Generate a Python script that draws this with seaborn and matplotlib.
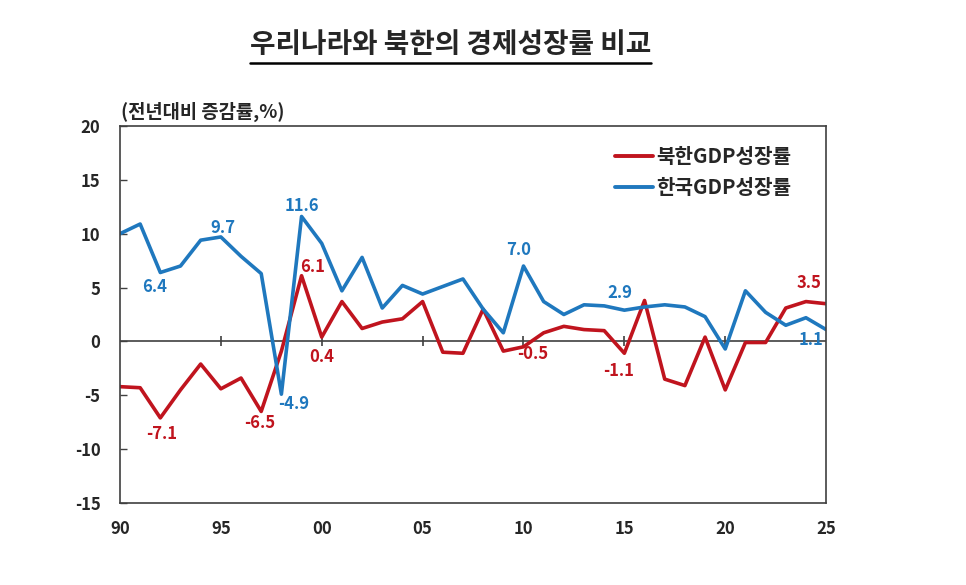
import numpy as np
import pandas as pd
import seaborn as sns
import matplotlib.pyplot as plt
from matplotlib.lines import Line2D

years = list(range(1990, 2026))
nk_growth = [-4.2, -4.3, -7.1, -4.5, -2.1, -4.4, -3.4, -6.5, -0.9, 6.1,
             0.4, 3.7, 1.2, 1.8, 2.1, 3.7, -1.0, -1.1, 3.0, -0.9,
             -0.5, 0.8, 1.4, 1.1, 1.0, -1.1, 3.8, -3.5, -4.1, 0.4,
             -4.5, -0.1, -0.1, 3.1, 3.7, 3.5]
sk_growth = [10.0, 10.9, 6.4, 7.0, 9.4, 9.7, 7.9, 6.3, -4.9, 11.6,
             9.1, 4.7, 7.8, 3.1, 5.2, 4.4, 5.1, 5.8, 3.0, 0.8,
             7.0, 3.7, 2.5, 3.4, 3.3, 2.9, 3.2, 3.4, 3.2, 2.3,
             -0.7, 4.7, 2.7, 1.5, 2.2, 1.1]
series_names = ["북한GDP성장률", "한국GDP성장률"]
tick_years = [1990, 1995, 2000, 2005, 2010, 2015, 2020, 2025]
tick_labels = ["90", "95", "00", "05", "10", "15", "20", "25"]

# (series, year, label, dx px, dy px)
annotations = [
    ("sk", 1992, "6.4", -6, -15), ("sk", 1995, "9.7", 2, 9), ("sk", 1999, "11.6", 0, 10),
    ("sk", 1998, "-4.9", 12, -10), ("sk", 2010, "7.0", -5, 16), ("sk", 2015, "2.9", -4, 17),
    ("sk", 2025, "1.1", -15, -10),
    ("nk", 1999, "6.1", 11, 9), ("nk", 2000, "0.4", 0, -20), ("nk", 1992, "-7.1", 1, -16),
    ("nk", 1997, "-6.5", -2, -12), ("nk", 2010, "-0.5", 9, -7), ("nk", 2015, "-1.1", -6, -18),
    ("nk", 2025, "3.5", -17, 21),
]

red = "#C0141E"
blue = "#1F78BE"

df = pd.DataFrame({
    "year": years * 2,
    "growth": nk_growth + sk_growth,
    "series": [series_names[0]] * len(years) + [series_names[1]] * len(years),
})

sns.set_style("white")
plt.rcParams["font.family"] = ["Noto Sans CJK KR", "DejaVu Sans"]
plt.rcParams["axes.unicode_minus"] = False

fig = plt.figure(figsize=(9.66, 5.85), dpi=100)
ax = fig.add_axes([0.1242, 0.1402, 0.731, 0.6444])

sns.lineplot(data=df, x="year", y="growth", hue="series",
             palette={series_names[0]: red, series_names[1]: blue},
             linewidth=2.6, ax=ax)

ax.axhline(0, color="#404040", linewidth=1.2, zorder=1)
ax.scatter(tick_years[1:-1], [0] * (len(tick_years) - 2), marker="|", s=60,
           color="#404040", linewidths=1.2, zorder=1)

ax.set_xlim(1990, 2025)
ax.set_ylim(-15, 20)
ax.set_xticks(tick_years)
ax.set_xticklabels(tick_labels)
ax.set_yticks(range(-15, 21, 5))
ax.tick_params(axis="x", length=0, pad=12, labelsize=12)
ax.tick_params(axis="y", direction="in", length=5, width=1, color="#404040",
               pad=14, labelsize=12, left=True)
for lab in ax.get_xticklabels() + ax.get_yticklabels():
    lab.set_fontweight("bold")
for sp in ax.spines.values():
    sp.set_color("#404040")
    sp.set_linewidth(1.2)
ax.set_xlabel("")
ax.set_ylabel("")

vals = {"nk": dict(zip(years, nk_growth)), "sk": dict(zip(years, sk_growth))}
cols = {"nk": red, "sk": blue}
px = 72 / 100
for s, yr, txt, dx, dy in annotations:
    ax.annotate(txt, (yr, vals[s][yr]), xytext=(dx * px, dy * px),
                textcoords="offset points", ha="center", va="center",
                color=cols[s], fontsize=12, fontweight="bold")

handles = [Line2D([0], [0], color=red, lw=2.8), Line2D([0], [0], color=blue, lw=2.8)]
ax.legend(handles, series_names, loc="upper left", bbox_to_anchor=(0.618, 0.782),
          bbox_transform=fig.transFigure, frameon=False,
          prop={"size": 14.5, "weight": "bold"},
          handlelength=1.9, handletextpad=0.15, labelspacing=0.5)

fig.text(0.125, 0.808, "(전년대비 증감률,%)", fontsize=13.5, fontweight="bold",
         ha="left", va="center")
title = fig.text(0.466, 0.923, "우리나라와 북한의 경제성장률 비교", fontsize=20,
                 fontweight="heavy", ha="center", va="center")
fig.canvas.draw()
bb = title.get_window_extent().transformed(fig.transFigure.inverted())
fig.add_artist(Line2D([bb.x0, bb.x1], [bb.y0 - 0.006, bb.y0 - 0.006], color="black",
                      lw=1.8, transform=fig.transFigure))

fig.savefig("out.png", dpi=100)
